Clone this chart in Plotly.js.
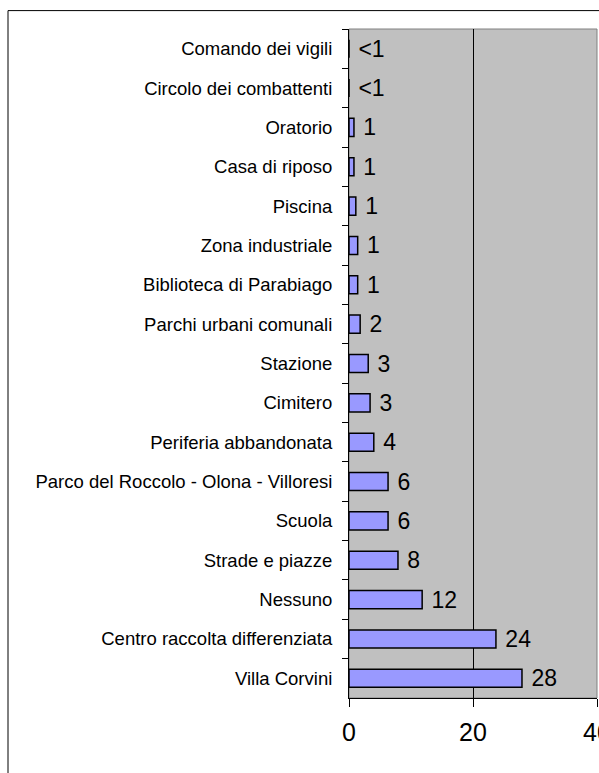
<!DOCTYPE html>
<html>
<head>
<meta charset="utf-8">
<script src="https://cdn.plot.ly/plotly-3.0.1.min.js"></script>
<style>
html, body { margin: 0; padding: 0; background: #ffffff; }
#chart { width: 599px; height: 773px; }
</style>
</head>
<body>
<div id="chart"></div>
<script>
// Categories, top to bottom as shown in the chart
const categories = [
  "Comando dei vigili",
  "Circolo dei combattenti",
  "Oratorio",
  "Casa di riposo",
  "Piscina",
  "Zona industriale",
  "Biblioteca di Parabiago",
  "Parchi urbani comunali",
  "Stazione",
  "Cimitero",
  "Periferia abbandonata",
  "Parco del Roccolo - Olona - Villoresi",
  "Scuola",
  "Strade e piazze",
  "Nessuno",
  "Centro raccolta differenziata",
  "Villa Corvini"
];
// Bar lengths
const values = [0, 0, 0.8, 0.8, 1.1, 1.4, 1.4, 1.8, 3.1, 3.4, 4.0, 6.3, 6.3, 7.9, 11.8, 23.7, 27.9];
// Data labels as printed
const valueLabels = ["<1", "<1", "1", "1", "1", "1", "1", "2", "3", "3", "4", "6", "6", "8", "12", "24", "28"];
// X axis ticks
const xTickValues = [0, 20, 40];
const xTickLabels = ["0", "20", "40"];

const trace = {
  type: "bar",
  orientation: "h",
  y: categories,
  x: values,
  text: valueLabels,
  texttemplate: " %{text}",
  textposition: "outside",
  constraintext: "none",
  cliponaxis: false,
  textfont: { family: "Liberation Sans, Arial, sans-serif", size: 23, color: "#000000" },
  width: 0.46,
  marker: { color: "#9999FF", line: { color: "#000000", width: 1.5 } },
  hoverinfo: "skip"
};

const layout = {
  width: 599,
  height: 773,
  margin: { l: 349, r: 2, t: 29, b: 75, pad: 0 },
  paper_bgcolor: "#ffffff",
  plot_bgcolor: "#C0C0C0",
  showlegend: false,
  font: { family: "Liberation Sans, Arial, sans-serif", color: "#000000" },
  xaxis: {
    range: [0, 40],
    tickvals: xTickValues,
    ticktext: xTickLabels,
    ticks: "outside",
    ticklen: 8,
    tickcolor: "#000000",
    tickwidth: 1,
    showline: true,
    linecolor: "#000000",
    linewidth: 1,
    showgrid: true,
    gridcolor: "#000000",
    gridwidth: 1,
    zeroline: false,
    tickfont: { size: 25, color: "#000000" },
    ticklabelstandoff: 4,
    ticklabeloverflow: "allow",
    fixedrange: true
  },
  yaxis: {
    type: "category",
    autorange: "reversed",
    tickson: "boundaries",
    ticks: "outside",
    ticklen: 6,
    tickcolor: "#000000",
    tickwidth: 1,
    showline: true,
    linecolor: "#000000",
    linewidth: 1,
    showgrid: false,
    zeroline: false,
    tickfont: { size: 18.5, color: "#000000" },
    ticklabelstandoff: 12,
    fixedrange: true
  },
  shapes: [
    {
      type: "rect", xref: "paper", yref: "paper",
      x0: 0, x1: 1, y0: 0, y1: 1,
      line: { color: "#808080", width: 1 }, layer: "below"
    },
    {
      type: "rect", xref: "paper", yref: "paper",
      x0: -1.375, x1: 1.2, y0: -0.2, y1: 1.0275,
      line: { color: "#000000", width: 1 }, layer: "below"
    }
  ]
};

Plotly.newPlot("chart", [trace], layout, { displayModeBar: false, staticPlot: true });
</script>
</body>
</html>
